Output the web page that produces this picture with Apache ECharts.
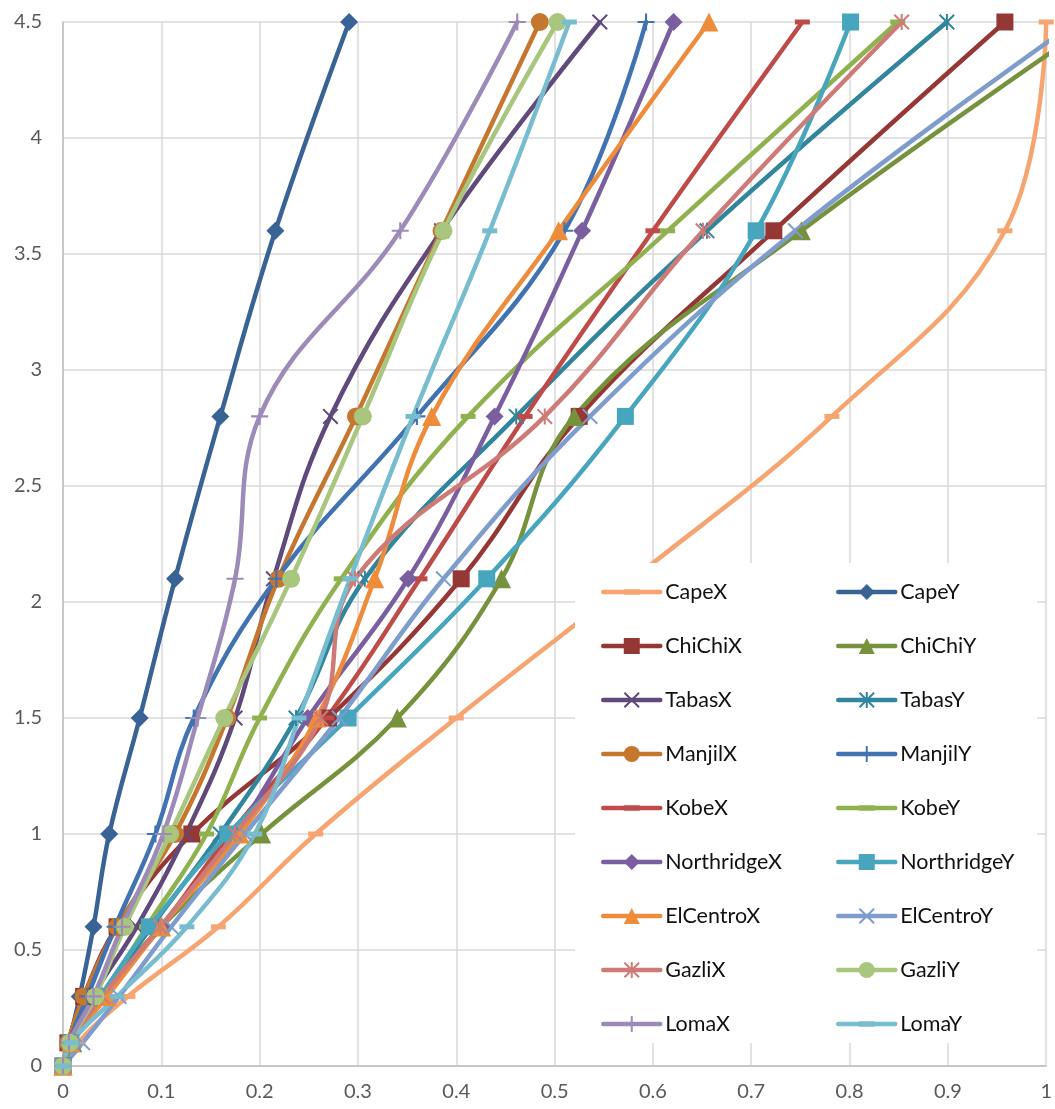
<!DOCTYPE html>
<html>
<head>
<meta charset="utf-8">
<script src="https://cdn.jsdelivr.net/npm/echarts@6/dist/echarts.min.js"></script>
<style>
  html, body { margin: 0; padding: 0; background: #fff; }
  #chart { width: 1055px; height: 1109px; }
</style>
</head>
<body>
<div id="chart"></div>
<script>
// Heights at which each record is sampled (vertical axis)
const levels = [0, 0.1, 0.3, 0.6, 1.0, 1.5, 2.1, 2.8, 3.6, 4.5];

// Horizontal values for each record, one per level
const capeX       = [0, 0.015, 0.066, 0.158, 0.257, 0.400, 0.580, 0.782, 0.958, 1.000];
const capeY       = [0, 0.006, 0.017, 0.031, 0.047, 0.078, 0.114, 0.160, 0.216, 0.291];
const chiChiX     = [0, 0.005, 0.021, 0.055, 0.131, 0.270, 0.405, 0.525, 0.723, 0.958];
const chiChiY     = [0, 0.010, 0.040, 0.100, 0.202, 0.340, 0.446, 0.520, 0.751, 1.050];
const tabasX      = [0, 0.006, 0.030, 0.075, 0.125, 0.175, 0.214, 0.272, 0.385, 0.546];
const tabasY      = [0, 0.008, 0.040, 0.090, 0.160, 0.237, 0.307, 0.461, 0.655, 0.899];
const manjilX     = [0, 0.005, 0.021, 0.055, 0.114, 0.167, 0.219, 0.298, 0.385, 0.485];
const manjilY     = [0, 0.006, 0.025, 0.053, 0.094, 0.133, 0.217, 0.360, 0.510, 0.593];
const kobeX       = [0, 0.008, 0.040, 0.100, 0.170, 0.268, 0.363, 0.470, 0.600, 0.752];
const kobeY       = [0, 0.008, 0.040, 0.085, 0.146, 0.200, 0.283, 0.412, 0.615, 0.849];
const northridgeX = [0, 0.008, 0.040, 0.100, 0.175, 0.249, 0.351, 0.439, 0.528, 0.621];
const northridgeY = [0, 0.008, 0.038, 0.088, 0.168, 0.290, 0.431, 0.572, 0.705, 0.801];
const elCentroX   = [0, 0.008, 0.045, 0.100, 0.180, 0.258, 0.317, 0.375, 0.504, 0.657];
const elCentroY   = [0, 0.020, 0.057, 0.110, 0.185, 0.281, 0.387, 0.536, 0.745, 1.030];
const gazliX      = [0, 0.008, 0.040, 0.099, 0.175, 0.262, 0.297, 0.490, 0.651, 0.853];
const gazliY      = [0, 0.007, 0.033, 0.063, 0.109, 0.164, 0.232, 0.305, 0.387, 0.503];
const lomaX       = [0, 0.006, 0.031, 0.060, 0.102, 0.137, 0.175, 0.200, 0.343, 0.462];
const lomaY       = [0, 0.008, 0.055, 0.126, 0.195, 0.240, 0.292, 0.356, 0.434, 0.515];

const xTicks = [0, 0.1, 0.2, 0.3, 0.4, 0.5, 0.6, 0.7, 0.8, 0.9, 1];
const yTicks = [0, 0.5, 1, 1.5, 2, 2.5, 3, 3.5, 4, 4.5];

// Marker shapes (paths padded to a square box so they scale evenly)
const SYM = {
  dash: 'path://M0,0L0,0 M0,5L15,5L15,10L0,10Z M15,15L15,15',
  cross: 'path://M0,1.4L1.4,0L16,14.6L14.6,16Z M16,1.4L14.6,0L0,14.6L1.4,16Z',
  star: 'path://M0,1.4L1.4,0L16,14.6L14.6,16Z M16,1.4L14.6,0L0,14.6L1.4,16Z M7,0L9,0L9,16L7,16Z',
  plus: 'path://M0,7L16,7L16,9L0,9Z M7,0L9,0L9,16L7,16Z'
};

const records = [
  { name: 'CapeX',       values: capeX,       color: '#F7A570', symbol: SYM.dash,  size: 15 },
  { name: 'CapeY',       values: capeY,       color: '#3A6395', symbol: 'diamond', size: 18 },
  { name: 'ChiChiX',     values: chiChiX,     color: '#953735', symbol: 'rect',    size: 17 },
  { name: 'ChiChiY',     values: chiChiY,     color: '#76923C', symbol: 'triangle',size: 19 },
  { name: 'TabasX',      values: tabasX,      color: '#604A7B', symbol: SYM.cross, size: 16 },
  { name: 'TabasY',      values: tabasY,      color: '#31859C', symbol: SYM.star,  size: 16 },
  { name: 'ManjilX',     values: manjilX,     color: '#C5772F', symbol: 'circle',  size: 18 },
  { name: 'ManjilY',     values: manjilY,     color: '#4172B1', symbol: SYM.plus,  size: 17 },
  { name: 'KobeX',       values: kobeX,       color: '#BE4B48', symbol: SYM.dash,  size: 15 },
  { name: 'KobeY',       values: kobeY,       color: '#8FB24F', symbol: SYM.dash,  size: 15 },
  { name: 'NorthridgeX', values: northridgeX, color: '#7B5EA0', symbol: 'diamond', size: 18 },
  { name: 'NorthridgeY', values: northridgeY, color: '#47A5BD', symbol: 'rect',    size: 17 },
  { name: 'ElCentroX',   values: elCentroX,   color: '#ED8C3B', symbol: 'triangle',size: 19 },
  { name: 'ElCentroY',   values: elCentroY,   color: '#7E9CCC', symbol: SYM.cross, size: 16 },
  { name: 'GazliX',      values: gazliX,      color: '#CE7B78', symbol: SYM.star,  size: 16 },
  { name: 'GazliY',      values: gazliY,      color: '#A8C67E', symbol: 'circle',  size: 18 },
  { name: 'LomaX',       values: lomaX,       color: '#9C8BB8', symbol: SYM.plus,  size: 17 },
  { name: 'LomaY',       values: lomaY,       color: '#78BCD0', symbol: SYM.dash,  size: 15 }
];

const FONT = 'Lato';
const LINE_W = 4.5;

const series = records.map(r => ({
  name: r.name,
  type: 'line',
  smooth: 0.4,
  data: r.values.map((v, i) => [v, levels[i]]),
  symbol: r.symbol,
  symbolSize: r.size,
  showSymbol: true,
  clip: true,
  lineStyle: { color: r.color, width: LINE_W, cap: 'round', join: 'round' },
  itemStyle: { color: r.color, borderWidth: 0 },
  emphasis: { disabled: true }
}));

// Legend sits on its own layer above the white panel
const legendBase = {
  orient: 'vertical',
  top: 581,
  itemWidth: 57,
  itemHeight: 20,
  itemGap: 32,
  padding: 0,
  zlevel: 2,
  selectedMode: false,
  itemStyle: { borderWidth: 0 },
  lineStyle: { width: LINE_W, cap: 'round' },
  textStyle: { fontFamily: FONT, fontSize: 21.5, color: '#111', lineHeight: 20 }
};

const chart = echarts.init(document.getElementById('chart'), null, { renderer: 'canvas' });
chart.setOption({
  animation: false,
  backgroundColor: '#fff',
  grid: { left: 63, right: 8, top: 22, bottom: 43, containLabel: false },
  xAxis: {
    type: 'value',
    min: xTicks[0],
    max: xTicks[xTicks.length - 1],
    interval: 0.1,
    axisLine: { show: true, lineStyle: { color: '#BFBFBF', width: 1.5 } },
    axisTick: { show: false },
    axisLabel: { color: '#595959', fontFamily: FONT, fontSize: 20, margin: 16,
      formatter: v => String(+v.toFixed(1)) },
    splitLine: { show: true, lineStyle: { color: '#D9D9D9', width: 1.5 } }
  },
  yAxis: {
    type: 'value',
    min: yTicks[0],
    max: yTicks[yTicks.length - 1],
    interval: 0.5,
    axisLine: { show: true, lineStyle: { color: '#BFBFBF', width: 1.5 } },
    axisTick: { show: false },
    axisLabel: { color: '#595959', fontFamily: FONT, fontSize: 20, margin: 21,
      formatter: v => String(+v.toFixed(1)) },
    splitLine: { show: true, lineStyle: { color: '#D9D9D9', width: 1.5 } }
  },
  graphic: {
    elements: [{
      type: 'rect',
      left: 575, top: 563,
      shape: { width: 462, height: 480 },
      style: { fill: '#fff' },
      zlevel: 1,
      z: 10
    }]
  },
  legend: [
    Object.assign({}, legendBase, { left: 601, data: records.filter((r, i) => i % 2 === 0).map(r => r.name) }),
    Object.assign({}, legendBase, { left: 836, data: records.filter((r, i) => i % 2 === 1).map(r => r.name) })
  ],
  series: series
});
</script>
</body>
</html>
